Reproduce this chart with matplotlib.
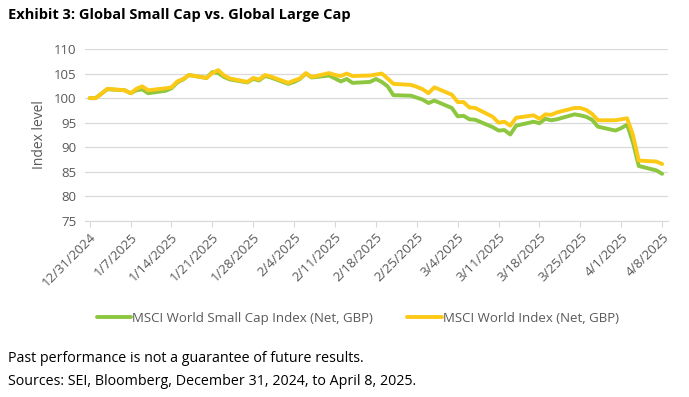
import pandas as pd
import matplotlib
matplotlib.use("Agg")
import matplotlib.pyplot as plt

plt.rcParams['font.family'] = ['Open Sans', 'DejaVu Sans']

dates = [
    "2024-12-31", "2025-01-01", "2025-01-02", "2025-01-03",
    "2025-01-06", "2025-01-07", "2025-01-08", "2025-01-09", "2025-01-10",
    "2025-01-13", "2025-01-14", "2025-01-15", "2025-01-16", "2025-01-17",
    "2025-01-20", "2025-01-21", "2025-01-22", "2025-01-23", "2025-01-24",
    "2025-01-27", "2025-01-28", "2025-01-29", "2025-01-30", "2025-01-31",
    "2025-02-03", "2025-02-04", "2025-02-05", "2025-02-06", "2025-02-07",
    "2025-02-10", "2025-02-11", "2025-02-12", "2025-02-13", "2025-02-14",
    "2025-02-17", "2025-02-18", "2025-02-19", "2025-02-20", "2025-02-21",
    "2025-02-24", "2025-02-25", "2025-02-26", "2025-02-27", "2025-02-28",
    "2025-03-03", "2025-03-04", "2025-03-05", "2025-03-06", "2025-03-07",
    "2025-03-10", "2025-03-11", "2025-03-12", "2025-03-13", "2025-03-14",
    "2025-03-17", "2025-03-18", "2025-03-19", "2025-03-20", "2025-03-21",
    "2025-03-24", "2025-03-25", "2025-03-26", "2025-03-27", "2025-03-28",
    "2025-03-31", "2025-04-01", "2025-04-02", "2025-04-03", "2025-04-04",
    "2025-04-07", "2025-04-08",
]

small_cap = [
    100.0, 100.0, 100.9, 101.8,
    101.6, 101.0, 101.6, 101.8, 101.0,
    101.5, 102.0, 103.2, 103.8, 104.7,
    104.1, 105.3, 105.1, 104.3, 103.8,
    103.2, 103.9, 103.6, 104.5, 104.2,
    102.9, 103.3, 103.9, 105.0, 104.2,
    104.6, 104.0, 103.4, 103.9, 103.1,
    103.3, 103.9, 103.3, 102.4, 100.6,
    100.5, 100.1, 99.7, 99.0, 99.5,
    98.0, 96.3, 96.4, 95.7, 95.6,
    94.1, 93.4, 93.5, 92.6, 94.4,
    95.2, 94.9, 95.8, 95.5, 95.7,
    96.7, 96.5, 96.2, 95.6, 94.2,
    93.4, 93.9, 94.6, 91.0, 86.2,
    85.3, 84.6,
]

world = [
    100.0, 100.0, 100.9, 101.9,
    101.6, 101.0, 101.9, 102.4, 101.6,
    102.0, 102.2, 103.4, 103.9, 104.7,
    104.1, 105.1, 105.7, 104.6, 104.0,
    103.3, 104.1, 103.8, 104.7, 104.4,
    103.1, 103.6, 104.0, 105.1, 104.3,
    105.1, 104.7, 104.5, 105.0, 104.5,
    104.6, 104.8, 105.0, 104.0, 102.9,
    102.7, 102.3, 101.8, 101.0, 102.2,
    100.7, 99.2, 99.2, 98.1, 98.0,
    96.2, 95.0, 95.2, 94.4, 96.0,
    96.5, 95.8, 96.7, 96.6, 97.1,
    98.0, 98.0, 97.6, 96.8, 95.5,
    95.5, 95.7, 95.9, 92.5, 87.3,
    87.1, 86.6,
]

tick_dates = [
    "2024-12-31", "2025-01-07", "2025-01-14", "2025-01-21", "2025-01-28",
    "2025-02-04", "2025-02-11", "2025-02-18", "2025-02-25", "2025-03-04",
    "2025-03-11", "2025-03-18", "2025-03-25", "2025-04-01", "2025-04-08",
]
tick_labels = [
    "12/31/2024", "1/7/2025", "1/14/2025", "1/21/2025", "1/28/2025",
    "2/4/2025", "2/11/2025", "2/18/2025", "2/25/2025", "3/4/2025",
    "3/11/2025", "3/18/2025", "3/25/2025", "4/1/2025", "4/8/2025",
]
y_ticks = [75, 80, 85, 90, 95, 100, 105, 110]

x = pd.to_datetime(dates)
green = "#8dc63f"
yellow = "#fcc917"
grey = "#595959"

fig = plt.figure(figsize=(6.89, 3.97), dpi=100)
ax = fig.add_axes([0.1234, 0.4433, 0.9695 - 0.1234, 0.8766 - 0.4433])

ax.plot(x, small_cap, color=green, lw=2.8, solid_joinstyle="round",
        solid_capstyle="round", label="MSCI World Small Cap Index (Net, GBP)")
ax.plot(x, world, color=yellow, lw=2.8, solid_joinstyle="round",
        solid_capstyle="round", label="MSCI World Index (Net, GBP)")

ax.set_ylim(75, 110)
ax.set_yticks(y_ticks)
ax.set_xlim(pd.Timestamp("2024-12-31") - pd.Timedelta(days=0.8),
            pd.Timestamp("2025-04-08") + pd.Timedelta(days=1.0))
ax.set_xticks(pd.to_datetime(tick_dates))
ax.set_xticklabels(tick_labels, rotation=45, ha="right", rotation_mode="anchor")

ax.grid(axis="y", color="#d9d9d9", lw=0.9)
ax.set_axisbelow(True)
for s in ["top", "right", "left"]:
    ax.spines[s].set_visible(False)
ax.spines["bottom"].set_color("#d9d9d9")
ax.tick_params(axis="y", length=0, labelsize=9.5, labelcolor=grey, pad=6)
ax.tick_params(axis="x", length=4, color="#d9d9d9", labelsize=9.5,
               labelcolor=grey, pad=3)
ax.set_ylabel("Index level", fontsize=10, color=grey, labelpad=5)

ax.legend(loc="center", bbox_to_anchor=(0.468, -0.565), ncol=2, frameon=False,
          fontsize=9.5, labelcolor=grey, handlelength=2.6, handletextpad=0.1,
          columnspacing=2.6)

fig.text(0.012, 0.962, "Exhibit 3: Global Small Cap vs. Global Large Cap",
         fontsize=10.5, fontweight="bold", va="center")
fig.text(0.012, 0.098, "Past performance is not a guarantee of future results.",
         fontsize=10.3, va="center")
fig.text(0.012, 0.040, "Sources: SEI, Bloomberg, December 31, 2024, to April 8, 2025.",
         fontsize=10.3, va="center")

fig.savefig("out.png", dpi=100)
